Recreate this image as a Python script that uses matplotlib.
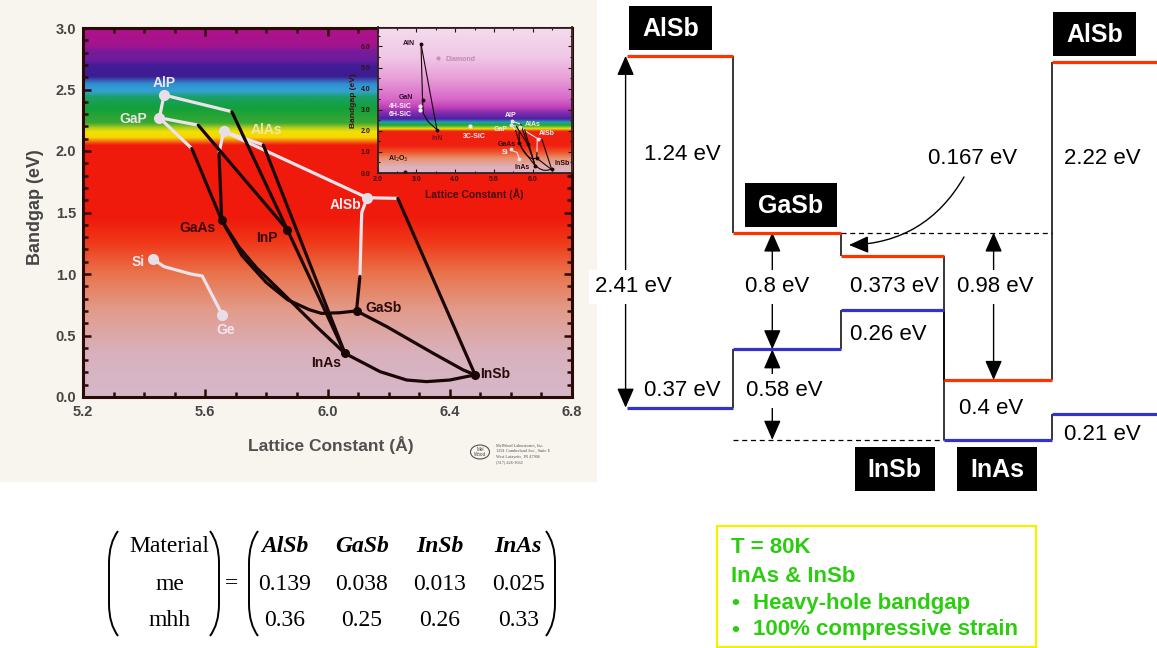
import matplotlib
matplotlib.use('Agg')
import matplotlib.pyplot as plt
import numpy as np
from matplotlib.colors import LinearSegmentedColormap
from matplotlib.patches import Rectangle, FancyArrowPatch, PathPatch, Ellipse
from matplotlib.path import Path
from matplotlib.ticker import MultipleLocator, FormatStrFormatter

plt.rcParams['font.family'] = ['Liberation Sans', 'DejaVu Sans']

W, H = 1157, 648

# ---------------- data: bandgap vs lattice constant ----------------
compounds = ['AlP', 'GaP', 'AlAs', 'AlSb', 'Si', 'Ge', 'GaAs', 'InP', 'GaSb', 'InAs', 'InSb']
lattice = [5.465, 5.450, 5.660, 6.130, 5.430, 5.656, 5.654, 5.869, 6.095, 6.057, 6.483]
bandgap = [2.455, 2.270, 2.160, 1.620, 1.120, 0.667, 1.435, 1.358, 0.700, 0.355, 0.180]
indirect = [True, True, True, True, True, True, False, False, False, False, False]

# indirect-gap alloy branches (light lines)
alp_gap = [(5.465, 2.455), (5.450, 2.270)]
alp_inp_ind = [(5.465, 2.455), (5.687, 2.320)]
gap_inp_ind = [(5.450, 2.270), (5.577, 2.210)]
gap_gaas_ind = [(5.450, 2.270), (5.556, 2.020)]
alas_gaas_ind = [(5.660, 2.160), (5.645, 1.980)]
alas_inas_ind = [(5.660, 2.160), (5.790, 2.050)]
alas_alsb = [(5.660, 2.160), (6.130, 1.620)]
alsb_gasb_ind = [(6.130, 1.620), (6.112, 1.500), (6.106, 0.980)]
alsb_insb_ind = [(6.130, 1.620), (6.230, 1.615)]
si_ge = [(5.430, 1.120), (5.465, 1.060), (5.553, 1.000), (5.590, 0.984), (5.656, 0.667)]
light_branches = [alp_gap, alp_inp_ind, gap_inp_ind, gap_gaas_ind, alas_gaas_ind,
                  alas_inas_ind, alas_alsb, alsb_gasb_ind, alsb_insb_ind, si_ge]

# direct-gap alloy branches (dark lines)
alp_inp_dir = [(5.687, 2.320), (5.869, 1.358)]
inp_inas = [(5.869, 1.358), (6.057, 0.355)]
gap_inp_dir = [(5.577, 2.210), (5.869, 1.358)]
gap_gaas_dir = [(5.556, 2.020), (5.654, 1.435)]
alas_gaas_dir = [(5.645, 1.980), (5.654, 1.435)]
alas_inas_dir = [(5.790, 2.050), (6.057, 0.355)]
gaas_inas = [(5.654, 1.435), (5.710, 1.220), (5.768, 1.050), (5.855, 0.840), (5.965, 0.570), (6.057, 0.355)]
gaas_gasb = [(5.654, 1.435), (5.720, 1.150), (5.800, 0.930), (5.870, 0.790), (5.940, 0.710),
             (5.980, 0.680), (6.040, 0.685), (6.095, 0.700)]
gasb_insb = [(6.095, 0.700), (6.194, 0.572), (6.346, 0.355), (6.444, 0.220), (6.483, 0.180)]
inas_insb = [(6.057, 0.355), (6.172, 0.206), (6.259, 0.138), (6.324, 0.125), (6.400, 0.138), (6.483, 0.180)]
alsb_gasb_dir = [(6.106, 0.980), (6.095, 0.700)]
alsb_insb_dir = [(6.230, 1.615), (6.483, 0.180)]
dark_branches = [alp_inp_dir, inp_inas, gap_inp_dir, gap_gaas_dir, alas_gaas_dir, alas_inas_dir,
                 gaas_inas, gaas_gasb, gasb_insb, inas_insb, alsb_gasb_dir, alsb_insb_dir]

# inset: wide-gap materials
nitrides = ['AlN', 'GaN', 'InN']
nitride_lattice = [3.12, 3.16, 3.53]
nitride_gap = [6.12, 3.45, 2.06]
aln_gan = [(3.12, 6.12), (3.16, 3.45)]
aln_inn = [(3.12, 6.12), (3.53, 2.06)]
gan_inn = [(3.16, 3.45), (3.18, 2.82), (3.31, 2.42), (3.53, 2.06)]
others = ['Diamond', '4H-SiC', '6H-SiC', '3C-SiC', 'Al$_2$O$_3$']
others_lattice = [3.57, 3.10, 3.10, 4.37, 2.71]
others_gap = [5.44, 3.17, 3.00, 2.21, 0.04]

# ---------------- data: band alignment (eV, GaSb valence band = 0) ----------------
layers = ['AlSb', 'GaSb', 'InSb', 'InAs', 'AlSb']
cb_edge = [2.01, 0.80, 0.64, -0.21, 1.97]
vb_edge = [-0.40, 0.00, 0.27, -0.62, -0.44]

# ---------------- data: effective masses ----------------
mass_materials = ['AlSb', 'GaSb', 'InSb', 'InAs']
me = ['0.139', '0.038', '0.013', '0.025']
mhh = ['0.36', '0.25', '0.26', '0.33']

notes = ['T = 80K', 'InAs & InSb', 'Heavy-hole bandgap', '100% compressive strain']

# ====================================================================
fig = plt.figure(figsize=(W / 100, H / 100), dpi=100)


def fax(x0, y0, x1, y1):
    return [x0 / W, 1 - y1 / H, (x1 - x0) / W, (y1 - y0) / H]


bg = fig.add_axes([0, 0, 1, 1], zorder=0)
bg.set_xlim(0, W)
bg.set_ylim(H, 0)
bg.axis('off')
bg.add_patch(Rectangle((0, 0), 597, 482, facecolor='#f8f4ee', edgecolor='none'))

# ---------------- main chart ----------------
ax = fig.add_axes(fax(83, 28, 572, 397), zorder=1)
main_stops = [(0.0, '#d6b8c9'), (0.35, '#d9b1bd'), (0.70, '#e29c8c'), (1.00, '#e9744c'),
              (1.25, '#ef3a1a'), (1.45, '#f01a0c'), (2.05, '#f01a0c'), (2.08, '#f27012'),
              (2.11, '#f8d400'), (2.16, '#efe200'), (2.19, '#b4cc22'), (2.23, '#3aa832'),
              (2.35, '#12a03a'), (2.44, '#1aa066'), (2.49, '#34a2d2'), (2.55, '#2f8ed0'),
              (2.58, '#3a52b0'), (2.61, '#3c1c90'), (2.70, '#421c98'), (2.74, '#6a1c9c'),
              (2.82, '#7c1a9a'), (2.86, '#a2148e'), (3.00, '#b0128a')]
cmap_main = LinearSegmentedColormap.from_list('main', [(v / 3.0, c) for v, c in main_stops], N=1024)
grad = np.linspace(0, 1, 800).reshape(-1, 1)
ax.imshow(grad, extent=[5.2, 6.8, 0, 3.0], origin='lower', aspect='auto', cmap=cmap_main,
          interpolation='bilinear', zorder=0)

for br in light_branches:
    xs, ys = zip(*br)
    ax.plot(xs, ys, color='#ebe2ea', lw=2.3, solid_capstyle='round', solid_joinstyle='round', zorder=2)
for br in dark_branches:
    xs, ys = zip(*br)
    ax.plot(xs, ys, color='#1a0606', lw=2.3, solid_capstyle='round', solid_joinstyle='round', zorder=3)
for x, y, ind in zip(lattice, bandgap, indirect):
    if ind:
        ax.plot(x, y, 'o', ms=7, color='#e8dee8', zorder=4)
    else:
        ax.plot(x, y, 'o', ms=5.5, color='#1a0606', zorder=4)

label_pos = {'AlP': (5.465, 2.55, 'center', '#efe6f2'), 'GaP': (5.41, 2.26, 'right', '#ece2e6'),
             'AlAs': (5.748, 2.17, 'left', '#f3e6a4'), 'AlSb': (6.11, 1.56, 'right', '#f6eef4'),
             'Si': (5.403, 1.10, 'right', '#f4e8f0'), 'Ge': (5.666, 0.545, 'center', '#f2e6ee'),
             'GaAs': (5.633, 1.376, 'right', '#3a0808'), 'InP': (5.803, 1.29, 'center', '#3a0808'),
             'GaSb': (6.124, 0.72, 'left', '#2a0a0a'), 'InAs': (5.996, 0.279, 'center', '#2a0a0a'),
             'InSb': (6.50, 0.184, 'left', '#2a0a0a')}
for name in compounds:
    lx, ly, ha, col = label_pos[name]
    ax.text(lx, ly, name, ha=ha, va='center', fontsize=10, fontweight='bold', color=col, zorder=5)

ax.set_xlim(5.2, 6.8)
ax.set_ylim(0, 3.0)
ax.xaxis.set_major_locator(MultipleLocator(0.4))
ax.xaxis.set_minor_locator(MultipleLocator(0.1))
ax.yaxis.set_major_locator(MultipleLocator(0.5))
ax.yaxis.set_minor_locator(MultipleLocator(0.1))
ax.xaxis.set_major_formatter(FormatStrFormatter('%.1f'))
ax.yaxis.set_major_formatter(FormatStrFormatter('%.1f'))
ax.tick_params(which='both', direction='in', top=True, right=True, color='#2a0a06', width=1.8)
ax.tick_params(which='major', length=6, labelsize=10.5, labelcolor='#454545')
ax.tick_params(which='minor', length=3.5)
ax.tick_params(axis='x', pad=6)
ax.tick_params(axis='y', pad=5)
for lab in ax.get_xticklabels() + ax.get_yticklabels():
    lab.set_fontweight('bold')
for sp in ax.spines.values():
    sp.set_linewidth(2.2)
    sp.set_color('#2a0a06')

bg.text(36, 207, 'Bandgap (eV)', rotation=90, ha='center', va='center', fontsize=13,
        fontweight='bold', color='#454545')
bg.text(331, 445, 'Lattice Constant (Å)', ha='center', va='center', fontsize=12.5,
        fontweight='bold', color='#505050')

# logo
bg.add_patch(Ellipse((480, 452), 19, 14, facecolor='none', edgecolor='#505050', lw=0.8))
bg.text(480, 452, 'Mel\nWood', ha='center', va='center', fontsize=3.3, color='#404040',
        linespacing=0.9)
for i, s in enumerate(['MelWood Laboratories, Inc.', '1291 Cumberland Ave., Suite E',
                       'West Lafayette, IN 47906', '(317) 426-3662']):
    bg.text(496, 446 + i * 5.3, s, ha='left', va='center', fontsize=3.1, color='#505050',
            family=['Liberation Serif', 'DejaVu Serif'])

# ---------------- inset ----------------
ins = fig.add_axes(fax(377.5, 27.5, 571.7, 173), zorder=2)
inset_stops = [(0.0, '#dcb8c8'), (0.3, '#e0b0b8'), (0.7, '#e8906e'), (1.0, '#ef5028'),
               (1.3, '#f02010'), (1.95, '#f02010'), (2.02, '#f06010'), (2.08, '#f6e000'),
               (2.15, '#a0d020'), (2.25, '#20a838'), (2.40, '#20a0a0'), (2.48, '#3060c0'),
               (2.56, '#5020a0'), (2.90, '#8a30b0'), (3.10, '#c040b8'), (3.50, '#d868c8'),
               (4.50, '#e8a0d8'), (5.50, '#f0c8e8'), (6.90, '#f4dcec')]
cmap_ins = LinearSegmentedColormap.from_list('ins', [(v / 6.9, c) for v, c in inset_stops], N=1024)
ins.imshow(grad, extent=[2.0, 7.0, 0, 6.9], origin='lower', aspect='auto', cmap=cmap_ins,
           interpolation='bilinear', zorder=0)
for br in light_branches:
    xs, ys = zip(*br)
    ins.plot(xs, ys, color='#ebe2ea', lw=0.8, zorder=2)
for br in dark_branches + [aln_gan, aln_inn, gan_inn]:
    xs, ys = zip(*br)
    ins.plot(xs, ys, color='#1a0606', lw=0.8, zorder=3)
for x, y, ind in zip(lattice, bandgap, indirect):
    ins.plot(x, y, 'o', ms=1.8, color='#e8dee8' if ind else '#1a0606', zorder=4)
ins.plot(nitride_lattice, nitride_gap, 'o', ms=1.8, color='#1a0606', zorder=4, ls='none')
oth_cols = ['#c890b8', '#f4eef4', '#f4eef4', '#f4eef4', '#301010']
for x, y, c in zip(others_lattice, others_gap, oth_cols):
    ins.plot(x, y, 'o', ms=2.0, color=c, zorder=4)

inset_labels = [('AlN', 2.80, 6.12, 'center', '#301020'), ('Diamond', 4.13, 5.39, 'center', '#c08ab0'),
                ('GaN', 2.74, 3.58, 'center', '#301030'), ('4H-SiC', 2.58, 3.17, 'center', '#f8f0f8'),
                ('6H-SiC', 2.58, 2.79, 'center', '#f8f0f8'), ('InN', 3.53, 1.63, 'center', '#801010'),
                ('3C-SiC', 4.48, 1.74, 'center', '#f8f0f8'), ('AlP', 5.42, 2.74, 'center', '#f8f0f8'),
                ('AlAs', 6.00, 2.31, 'center', '#f0e8c0'), ('GaP', 5.17, 2.06, 'center', '#f0e8e8'),
                ('AlSb', 6.37, 1.87, 'center', '#f8f0f8'), ('GaAs', 5.34, 1.36, 'center', '#3a0808'),
                ('Si', 5.29, 0.99, 'center', '#f4e8f0'), ('InAs', 5.73, 0.28, 'center', '#2a0a0a'),
                ('InSb', 6.76, 0.44, 'center', '#2a0a0a'), ('Al$_2$O$_3$', 2.54, 0.68, 'center', '#2a0a0a')]
for s, x, y, ha, c in inset_labels:
    ins.text(x, y, s, ha=ha, va='center', fontsize=5, fontweight='bold', color=c, zorder=5)

ins.set_xlim(2.0, 7.0)
ins.set_ylim(0, 6.9)
ins.set_xticks([2, 3, 4, 5, 6])
ins.set_yticks([0, 1, 2, 3, 4, 5, 6])
ins.xaxis.set_minor_locator(MultipleLocator(0.5))
ins.yaxis.set_minor_locator(MultipleLocator(0.5))
ins.xaxis.set_major_formatter(FormatStrFormatter('%.1f'))
ins.yaxis.set_major_formatter(FormatStrFormatter('%.1f'))
ins.tick_params(which='both', direction='in', top=True, right=True, color='#2a1010', width=0.8)
ins.tick_params(which='major', length=3, labelsize=5, labelcolor='#3a1010')
ins.tick_params(which='minor', length=1.6)
ins.tick_params(axis='x', pad=2.5)
ins.tick_params(axis='y', pad=5)
for lab in ins.get_xticklabels() + ins.get_yticklabels():
    lab.set_fontweight('bold')
for sp in ins.spines.values():
    sp.set_linewidth(1.3)
    sp.set_color('#302020')
ins.set_xlabel('Lattice Constant (Å)', fontsize=7.5, fontweight='bold', color='#4a0c0c', labelpad=3)
ins.set_ylabel('Bandgap (eV)', fontsize=6, fontweight='bold', color='#3a1010', labelpad=3)

# ---------------- band alignment diagram ----------------
E0_PX, PX_PER_EV = 349.3, 146.0
band = fig.add_axes([0, 0, 1, 1], zorder=3)
band.set_xlim(0, W)
band.set_ylim((E0_PX - H) / PX_PER_EV, E0_PX / PX_PER_EV)
band.axis('off')
band.patch.set_alpha(0)
T = bg.transData

xb = [626.6, 733, 841, 944, 1052, 1157]
for i in range(len(layers)):
    band.hlines(cb_edge[i], xb[i], xb[i + 1], color='#ff3300', lw=2.3, zorder=3)
    band.hlines(vb_edge[i], xb[i], xb[i + 1], color='#3333cc', lw=2.3, zorder=3)
for i in range(1, len(layers)):
    band.vlines(xb[i], min(cb_edge[i - 1], cb_edge[i]), max(cb_edge[i - 1], cb_edge[i]),
                color='k', lw=1.1, zorder=2)
    band.vlines(xb[i], min(vb_edge[i - 1], vb_edge[i]), max(vb_edge[i - 1], vb_edge[i]),
                color='k', lw=1.1, zorder=2)
band.hlines(cb_edge[1], xb[2], xb[4], color='k', lw=0.9, ls=(0, (4, 3)), zorder=2)
band.hlines(vb_edge[3], xb[1], xb[3], color='k', lw=0.9, ls=(0, (4, 3)), zorder=2)

astyle = '<|-|>,head_length=0.8,head_width=0.35'
for x, ya, yb in [(625.6, vb_edge[0], cb_edge[0]), (772.3, vb_edge[1], cb_edge[1]),
                  (772.3, vb_edge[3], vb_edge[1]), (993.6, cb_edge[3], cb_edge[1])]:
    band.add_patch(FancyArrowPatch((x, ya), (x, yb), arrowstyle=astyle, mutation_scale=15,
                                   color='k', lw=1.0, shrinkA=0, shrinkB=0, zorder=2))
band.add_patch(FancyArrowPatch((964, 177), (849, 245), transform=T, connectionstyle='arc3,rad=-0.28',
                               arrowstyle='-|>,head_length=0.8,head_width=0.35', mutation_scale=15,
                               color='k', lw=1.0, shrinkA=0, shrinkB=0, zorder=2))

gap_labels = [('1.24 eV', 682.4, 155, False), ('0.167 eV', 973, 158.3, False),
              ('2.22 eV', 1102.7, 158.3, False), ('2.41 eV', 633.7, 286.7, True),
              ('0.8 eV', 777.6, 286.7, True), ('0.373 eV', 894, 286.7, False),
              ('0.98 eV', 995, 286.7, True), ('0.26 eV', 888.5, 334.3, False),
              ('0.37 eV', 682.4, 390.7, False), ('0.58 eV', 784.7, 390.7, True),
              ('0.4 eV', 990.8, 408.3, False), ('0.21 eV', 1102.7, 434.3, False)]
for s, x, y, boxed in gap_labels:
    kw = dict(bbox=dict(boxstyle='square,pad=0.3', facecolor='white', edgecolor='none')) if boxed else {}
    band.text(x, y, s, transform=T, ha='center', va='center', fontsize=16, color='k', zorder=5, **kw)

layer_boxes = [(629.1, 6.0, 711.9, 50.0), (745.0, 183.0, 837.0, 226.7), (1053.0, 12.3, 1135.7, 55.7),
               (855.0, 446.7, 934.6, 490.7), (957.0, 446.7, 1037.0, 490.7)]
box_names = [layers[0], layers[1], layers[4], layers[2], layers[3]]
for (x0, y0, x1, y1), s in zip(layer_boxes, box_names):
    band.add_patch(Rectangle((x0, y0), x1 - x0, y1 - y0, transform=T, facecolor='black',
                             edgecolor='none', zorder=4))
    band.text((x0 + x1) / 2, (y0 + y1) / 2 + 1, s, transform=T, ha='center', va='center',
              fontsize=18, fontweight='bold', color='white', zorder=5)

# ---------------- effective-mass matrix ----------------
serif = ['Liberation Serif', 'DejaVu Serif']


def paren(x, y0, y1, side, w=9, c=20):
    s = 1 if side == 'left' else -1
    verts = [(x + s * w, y0), (x, y0 + 0.6 * c), (x, y0 + 1.6 * c),
             (x, y1 - 1.6 * c), (x, y1 - 0.6 * c), (x + s * w, y1)]
    codes = [Path.MOVETO, Path.CURVE3, Path.CURVE3, Path.LINETO, Path.CURVE3, Path.CURVE3]
    bg.add_patch(PathPatch(Path(verts, codes), facecolor='none', edgecolor='black', lw=1.4))


paren(109, 531, 636, 'left')
paren(219, 531, 636, 'right')
paren(249, 531, 636, 'left')
paren(555, 531, 636, 'right')
rows_y = [551.7, 590.0, 626.0]
for s, y in zip(['Material', 'me', 'mhh'], rows_y):
    bg.text(169.5, y, s, ha='center', va='baseline', fontsize=17, family=serif, color='black')
bg.text(231, 583.5, '=', ha='center', va='center', fontsize=17, family=serif, color='black')
col_x = [285, 361.7, 440, 518.3]
for x, m, e, h in zip(col_x, mass_materials, me, mhh):
    bg.text(x, rows_y[0], m, ha='center', va='baseline', fontsize=17, family=serif,
            style='italic', fontweight='bold', color='black')
    bg.text(x, rows_y[1], e, ha='center', va='baseline', fontsize=17, family=serif, color='black')
    bg.text(x, rows_y[2], h, ha='center', va='baseline', fontsize=17, family=serif, color='black')

# ---------------- conditions box ----------------
bg.add_patch(Rectangle((717.3, 526), 318.7, 120.7, facecolor='white', edgecolor='#f2f200', lw=1.6))
green = '#2ccc10'
note_y = [553.3, 581.7, 609.3, 635.5]
bg.text(731, note_y[0], notes[0], ha='left', va='baseline', fontsize=16, fontweight='bold', color=green)
bg.text(731, note_y[1], notes[1], ha='left', va='baseline', fontsize=16, fontweight='bold', color=green)
for s, y in zip(notes[2:], note_y[2:]):
    bg.text(731, y, '•', ha='left', va='baseline', fontsize=16, fontweight='bold', color=green)
    bg.text(753, y, s, ha='left', va='baseline', fontsize=16, fontweight='bold', color=green)

fig.savefig('out.png', dpi=100)
